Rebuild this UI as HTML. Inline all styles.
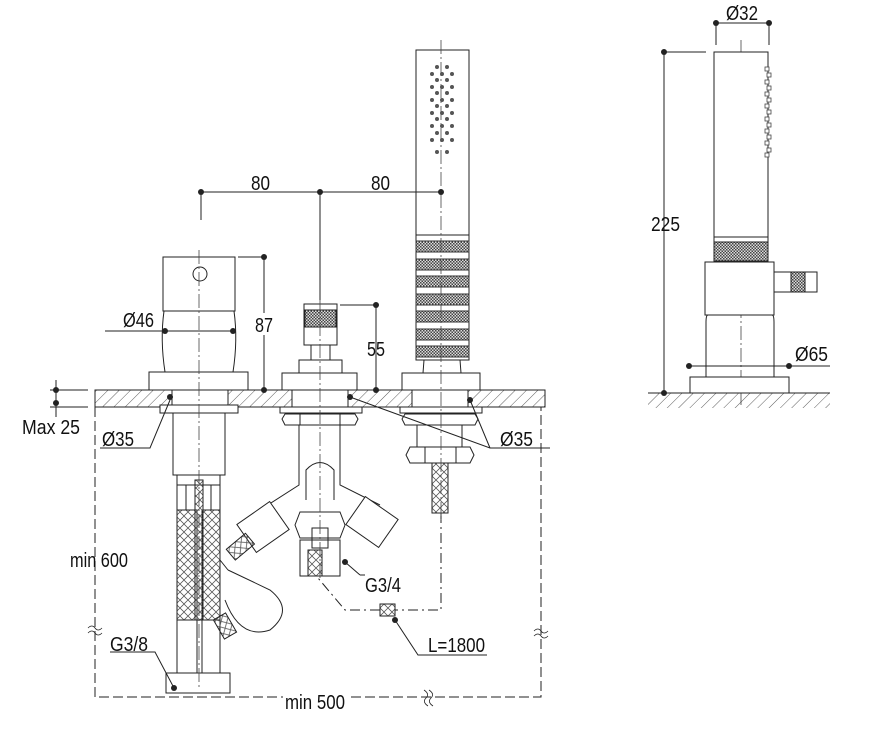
<!DOCTYPE html>
<html><head><meta charset="utf-8"><style>
html,body{margin:0;padding:0;background:#fff}
svg{display:block}
text{font-family:"Liberation Sans",Arial,sans-serif;font-size:20px;fill:#111}
</style></head><body>
<svg width="884" height="753" viewBox="0 0 884 753" xmlns="http://www.w3.org/2000/svg">
<defs>
<pattern id="hatch" width="8" height="8" patternUnits="userSpaceOnUse" patternTransform="rotate(45)">
<line x1="0" y1="0" x2="0" y2="8" stroke="#333" stroke-width="0.8"/></pattern>
<pattern id="knurl" width="3" height="3" patternUnits="userSpaceOnUse">
<rect width="3" height="3" fill="#ddd"/><rect width="1.5" height="1.5" fill="#444"/><rect x="1.5" y="1.5" width="1.5" height="1.5" fill="#444"/></pattern>
<pattern id="braid" width="8" height="8" patternUnits="userSpaceOnUse">
<path d="M0 4 L4 0 M4 8 L8 4 M0 4 L4 8 M4 0 L8 4" stroke="#555" stroke-width="0.8" fill="none"/></pattern>
</defs>
<g fill="none" stroke="#222" stroke-width="1">
<rect x="95" y="390" width="450" height="17" fill="url(#hatch)"/>
<rect x="95" y="390" width="450" height="17"/>
<rect x="172" y="390" width="56" height="17" fill="#fff" stroke="#fff"/>
<rect x="292" y="390" width="56" height="17" fill="#fff" stroke="#fff"/>
<rect x="412" y="390" width="56" height="17" fill="#fff" stroke="#fff"/>
<!-- left mixer -->
<rect x="163" y="257" width="72" height="54" fill="#fff"/>
<circle cx="200" cy="274" r="7"/>
<path d="M164 311 Q160 340 165 372 M234 311 Q238 340 233 372"/>
<rect x="149" y="372" width="99" height="18" fill="#fff"/>
<rect x="172" y="390" width="56" height="17"/>
<rect x="160" y="405" width="78" height="8" fill="#fff"/>
<rect x="173" y="413" width="52" height="62"/>
<rect x="177" y="475" width="43" height="10"/>
<path d="M177 485 V510 M220 485 V510 M186 485 V510 M211 485 V510"/>
<rect x="177" y="510" width="20" height="110" fill="url(#braid)"/>
<rect x="202" y="510" width="18" height="110" fill="url(#braid)"/>
<rect x="195" y="480" width="8" height="140" fill="url(#braid)"/>
<rect x="177" y="620" width="20" height="53"/>
<rect x="202" y="620" width="18" height="53"/>
<rect x="166" y="673" width="64" height="20"/>
<path d="M220 560 L228 570 M225 600 Q240 640 270 630 Q295 610 270 590 L228 570" />
<rect x="218" y="615" width="14" height="22" fill="url(#braid)" transform="rotate(-30 225 626)"/>
<!-- centre mixer -->
<rect x="304" y="304" width="33" height="41"/>
<rect x="305" y="310" width="31" height="17" fill="url(#knurl)"/>
<rect x="311" y="345" width="19" height="15"/>
<rect x="299" y="360" width="43" height="13"/>
<rect x="282" y="373" width="75" height="17" fill="#fff"/>
<rect x="292" y="390" width="56" height="17"/>
<rect x="280" y="407" width="82" height="6"/>
<path d="M285 414 H355 L358 419 L355 425 H285 L282 419 Z M300 414 V425 M340 414 V425"/>
<path d="M299 425 V485 L260 510 M340 425 V485 L380 505"/>
<path d="M306 500 V470 Q320 455 334 470 V500"/>
<rect x="243" y="510" width="40" height="34" transform="rotate(-35 263 527)" fill="#fff"/>
<rect x="352" y="505" width="40" height="34" transform="rotate(35 372 522)" fill="#fff"/>
<rect x="228" y="540" width="25" height="14" fill="url(#braid)" transform="rotate(-40 240 547)"/>
<path d="M300 512 H340 L345 525 L340 538 H300 L295 525 Z" fill="#fff"/>
<rect x="312" y="528" width="16" height="20"/>
<rect x="300" y="540" width="40" height="36"/>
<rect x="308" y="550" width="14" height="26" fill="url(#braid)"/>
<!-- handshower -->
<rect x="416" y="50" width="53" height="310" fill="#fff"/>
<line x1="416" y1="235" x2="469" y2="235"/>
<g fill="url(#knurl)" stroke="#333">
<rect x="416" y="241" width="53" height="11"/><rect x="416" y="259" width="53" height="11"/>
<rect x="416" y="276" width="53" height="11"/><rect x="416" y="294" width="53" height="11"/>
<rect x="416" y="311" width="53" height="11"/><rect x="416" y="329" width="53" height="11"/>
<rect x="416" y="346" width="53" height="11"/></g>
<path d="M424 360 L423 373 M460 360 L461 373"/>
<rect x="402" y="373" width="78" height="17" fill="#fff"/>
<rect x="412" y="390" width="56" height="17"/>
<rect x="400" y="407" width="82" height="6"/>
<path d="M405 414 H475 L478 419 L475 425 H405 L402 419 Z"/>
<rect x="417" y="425" width="45" height="22"/>
<path d="M410 447 H470 L474 455 L470 463 H410 L406 455 Z M425 447 V463 M456 447 V463"/>
<rect x="432" y="463" width="16" height="50" fill="url(#braid)"/>
<!-- dashed rectangle -->
<path d="M95 407 V697 H541 V407" stroke-dasharray="10 4"/>
<path d="M441 513 V610 H395 M380 610 H345 L318 578" stroke-dasharray="10 4 2 4"/>
<rect x="380" y="604" width="15" height="12" fill="url(#braid)"/>
<path d="M424 690 Q430 694 426 698 Q422 702 428 706 M429 690 Q435 694 431 698 Q427 702 433 706" stroke-width="0.8"/>
<path d="M534 631 Q538 627 541 631 Q544 635 548 631 M534 636 Q538 632 541 636 Q544 640 548 636" stroke-width="0.8"/>
<path d="M88 628 Q92 624 95 628 Q98 632 102 628 M88 633 Q92 629 95 633 Q98 637 102 633" stroke-width="0.8"/>
<g stroke-dasharray="14 3 2 3" stroke="#444" stroke-width="0.8">
<line x1="199" y1="250" x2="199" y2="690"/>
<line x1="320" y1="300" x2="320" y2="580"/>
<line x1="441" y1="40" x2="441" y2="520"/>
<line x1="741" y1="40" x2="741" y2="405"/>
</g>
<path d="M201 192 H441 M201 192 V220 M320 192 V300 M264 257 V390 M238 257 H264 M376 305 V390 M340 305 H376 M105 331 H233 M50 390 H88 M50 407 H88 M56 380 V417"/>
<path d="M100 448 H150 L170 400" />
<path d="M350 397 L490 448 H550 M470 400 L490 448"/>
<path d="M360 575 L345 562 M360 575 H365"/>
<path d="M395 620 L418 655 H487"/>
<path d="M174 688 L155 652 H110"/>
</g>
<g fill="#222">
<circle cx="201" cy="192" r="3"/><circle cx="320" cy="192" r="3"/><circle cx="441" cy="192" r="3"/>
<circle cx="264" cy="257" r="3"/><circle cx="264" cy="390" r="3"/>
<circle cx="376" cy="305" r="3"/><circle cx="376" cy="390" r="3"/>
<circle cx="165" cy="331" r="3"/><circle cx="233" cy="331" r="3"/>
<circle cx="56" cy="390" r="3"/><circle cx="56" cy="403" r="3"/>
<circle cx="170" cy="397" r="3"/><circle cx="350" cy="397" r="3"/><circle cx="470" cy="400" r="3"/>
<circle cx="345" cy="562" r="3"/><circle cx="395" cy="620" r="3"/><circle cx="174" cy="688" r="3"/>
</g>
<g fill="#555">
<circle cx="437" cy="67" r="2"/><circle cx="447" cy="67" r="2"/>
<circle cx="432" cy="74" r="2"/><circle cx="442" cy="74" r="2"/><circle cx="452" cy="74" r="2"/>
<circle cx="437" cy="80" r="2"/><circle cx="447" cy="80" r="2"/>
<circle cx="432" cy="87" r="2"/><circle cx="442" cy="87" r="2"/><circle cx="452" cy="87" r="2"/>
<circle cx="437" cy="93" r="2"/><circle cx="447" cy="93" r="2"/>
<circle cx="432" cy="100" r="2"/><circle cx="442" cy="100" r="2"/><circle cx="452" cy="100" r="2"/>
<circle cx="437" cy="106" r="2"/><circle cx="447" cy="106" r="2"/>
<circle cx="432" cy="113" r="2"/><circle cx="442" cy="113" r="2"/><circle cx="452" cy="113" r="2"/>
<circle cx="437" cy="119" r="2"/><circle cx="447" cy="119" r="2"/>
<circle cx="432" cy="126" r="2"/><circle cx="442" cy="126" r="2"/><circle cx="452" cy="126" r="2"/>
<circle cx="437" cy="133" r="2"/><circle cx="447" cy="133" r="2"/>
<circle cx="432" cy="140" r="2"/><circle cx="442" cy="140" r="2"/><circle cx="452" cy="140" r="2"/>
<circle cx="437" cy="152" r="2"/><circle cx="447" cy="152" r="2"/>
</g>
<!-- right view -->
<g fill="none" stroke="#222" stroke-width="1">
<rect x="648" y="393" width="182" height="15" fill="url(#hatch)" stroke="none"/>
<line x1="648" y1="393" x2="830" y2="393"/>
<rect x="690" y="377" width="99" height="16" fill="#fff"/>
<path d="M706 377 V322 Q706 315 708 315 M774 377 V322 Q774 315 772 315"/>
<rect x="705" y="262" width="69" height="53" fill="#fff"/>
<rect x="714" y="52" width="54" height="210" fill="#fff"/>
<rect x="714" y="237" width="54" height="5"/>
<rect x="714" y="242" width="54" height="19" fill="url(#knurl)"/>
<rect x="774" y="272" width="43" height="20"/>
<rect x="791" y="272" width="14" height="20" fill="url(#knurl)"/>
<g fill="#fff" stroke="#444" stroke-width="0.8">
<rect x="765" y="67" width="4" height="4"/><rect x="767" y="73" width="4" height="4"/><rect x="765" y="80" width="4" height="4"/><rect x="767" y="86" width="4" height="4"/><rect x="765" y="92" width="4" height="4"/><rect x="767" y="98" width="4" height="4"/><rect x="765" y="104" width="4" height="4"/><rect x="767" y="110" width="4" height="4"/><rect x="765" y="117" width="4" height="4"/><rect x="767" y="123" width="4" height="4"/><rect x="765" y="129" width="4" height="4"/><rect x="767" y="135" width="4" height="4"/><rect x="765" y="141" width="4" height="4"/><rect x="767" y="148" width="4" height="4"/><rect x="765" y="153" width="4" height="4"/></g>
<path d="M716 23 H769 M716 23 V45 M769 23 V45 M664 52 H706 M664 52 V393 M689 366 H830"/>
</g>
<g fill="#222"><circle cx="716" cy="23" r="3"/><circle cx="769" cy="23" r="3"/><circle cx="664" cy="52" r="3"/><circle cx="664" cy="393" r="3"/><circle cx="689" cy="366" r="3"/><circle cx="789" cy="366" r="3"/></g>
<!-- labels -->
<g>
<text x="251" y="190" textLength="19" lengthAdjust="spacingAndGlyphs">80</text>
<text x="371" y="190" textLength="19" lengthAdjust="spacingAndGlyphs">80</text>
<rect x="253" y="313" width="22" height="22" fill="#fff"/>
<text x="255" y="332" textLength="18" lengthAdjust="spacingAndGlyphs">87</text>
<text x="367" y="356" textLength="18" lengthAdjust="spacingAndGlyphs">55</text>
<text x="123" y="327" textLength="31" lengthAdjust="spacingAndGlyphs">Ø46</text>
<text x="22" y="434" textLength="58" lengthAdjust="spacingAndGlyphs">Max 25</text>
<text x="102" y="446" textLength="32" lengthAdjust="spacingAndGlyphs">Ø35</text>
<text x="500" y="446" textLength="33" lengthAdjust="spacingAndGlyphs">Ø35</text>
<text x="70" y="567" textLength="58" lengthAdjust="spacingAndGlyphs">min 600</text>
<text x="365" y="592" textLength="36" lengthAdjust="spacingAndGlyphs">G3/4</text>
<text x="110" y="651" textLength="38" lengthAdjust="spacingAndGlyphs">G3/8</text>
<text x="428" y="652" textLength="57" lengthAdjust="spacingAndGlyphs">L=1800</text>
<rect x="283" y="690" width="65" height="16" fill="#fff"/>
<text x="285" y="709" textLength="60" lengthAdjust="spacingAndGlyphs">min 500</text>
<text x="726" y="20" textLength="32" lengthAdjust="spacingAndGlyphs">Ø32</text>
<text x="651" y="231" textLength="29" lengthAdjust="spacingAndGlyphs">225</text>
<text x="795" y="361" textLength="33" lengthAdjust="spacingAndGlyphs">Ø65</text>
</g>
</svg>
</body></html>
